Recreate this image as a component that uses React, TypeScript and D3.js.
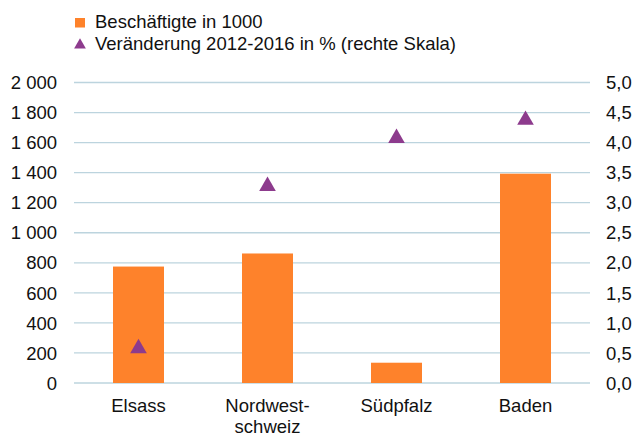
import React from "react";
import * as d3 from "d3";

const categories = ["Elsass", "Nordwest-\nschweiz", "Südpfalz", "Baden"];
const employees = [775, 862, 135, 1393];
const change = [0.6, 3.3, 4.1, 4.4];
const leftTicks = [0, 200, 400, 600, 800, 1000, 1200, 1400, 1600, 1800, 2000];
const rightTicks = [0, 0.5, 1, 1.5, 2, 2.5, 3, 3.5, 4, 4.5, 5];
const legendLabels = ["Beschäftigte in 1000", "Veränderung 2012-2016 in % (rechte Skala)"];

const W = 633, H = 434;
const M = { left: 74, right: 590, top: 82.5, bottom: 383 };
const ORANGE = "#fe822b";
const PURPLE = "#8d3b8d";
const GRID = "#bcd4de";
const FONT = "'Liberation Sans', Arial, sans-serif";
const FS = 18.5;

export default function App() {
  const yL = d3.scaleLinear().domain([0, 2000]).range([M.bottom, M.top]);
  const yR = d3.scaleLinear().domain([0, 5]).range([M.bottom, M.top]);
  const x = d3.scaleBand<string>().domain(categories).range([M.left, M.right]);
  const fmtL = (v: number) => d3.format(",")(v).replace(/,/g, " ");
  const fmtR = (v: number) => d3.format(".1f")(v).replace(".", ",");
  const tri = d3.symbol().type(d3.symbolTriangle).size(120);
  const cx = (c: string) => (x(c) as number) + x.bandwidth() / 2;
  const bw = 51;
  return (
    <svg width={W} height={H} style={{ position: "absolute", left: 0, top: 0, background: "#fff" }} fontFamily={FONT}>
      {leftTicks.map((t) => (
        <line key={"g" + t} x1={M.left} x2={M.right} y1={yL(t)} y2={yL(t)} stroke={GRID} strokeWidth={1.3} />
      ))}
      {leftTicks.map((t) => (
        <text key={"l" + t} x={57} y={yL(t)} dy="0.36em" textAnchor="end" fontSize={FS} fill="#111">{fmtL(t)}</text>
      ))}
      {rightTicks.map((t) => (
        <text key={"r" + t} x={606} y={yR(t)} dy="0.36em" textAnchor="start" fontSize={FS} fill="#111">{fmtR(t)}</text>
      ))}
      {employees.map((v, i) => (
        <rect key={"b" + i} x={cx(categories[i]) - bw / 2} y={yL(v)} width={bw} height={yL(0) - yL(v)} fill={ORANGE} />
      ))}
      {change.map((v, i) => (
        <path key={"t" + i} d={tri() as string} transform={`translate(${cx(categories[i])},${yR(v) + 1.5})`} fill={PURPLE} />
      ))}
      {categories.map((c, i) => (
        <text key={"c" + i} x={cx(c)} y={412} textAnchor="middle" fontSize={FS} fill="#111">
          {c.split("\n").map((s, j) => (
            <tspan key={j} x={cx(c)} dy={j === 0 ? 0 : 21}>{s}</tspan>
          ))}
        </text>
      ))}
      <rect x={75} y={18} width={10} height={9.5} fill={ORANGE} />
      <text x={95} y={28} fontSize={FS} fill="#111">{legendLabels[0]}</text>
      <path d={d3.symbol().type(d3.symbolTriangle).size(60)() as string} transform="translate(80,45)" fill={PURPLE} />
      <text x={95} y={50} fontSize={FS} fill="#111">{legendLabels[1]}</text>
    </svg>
  );
}
